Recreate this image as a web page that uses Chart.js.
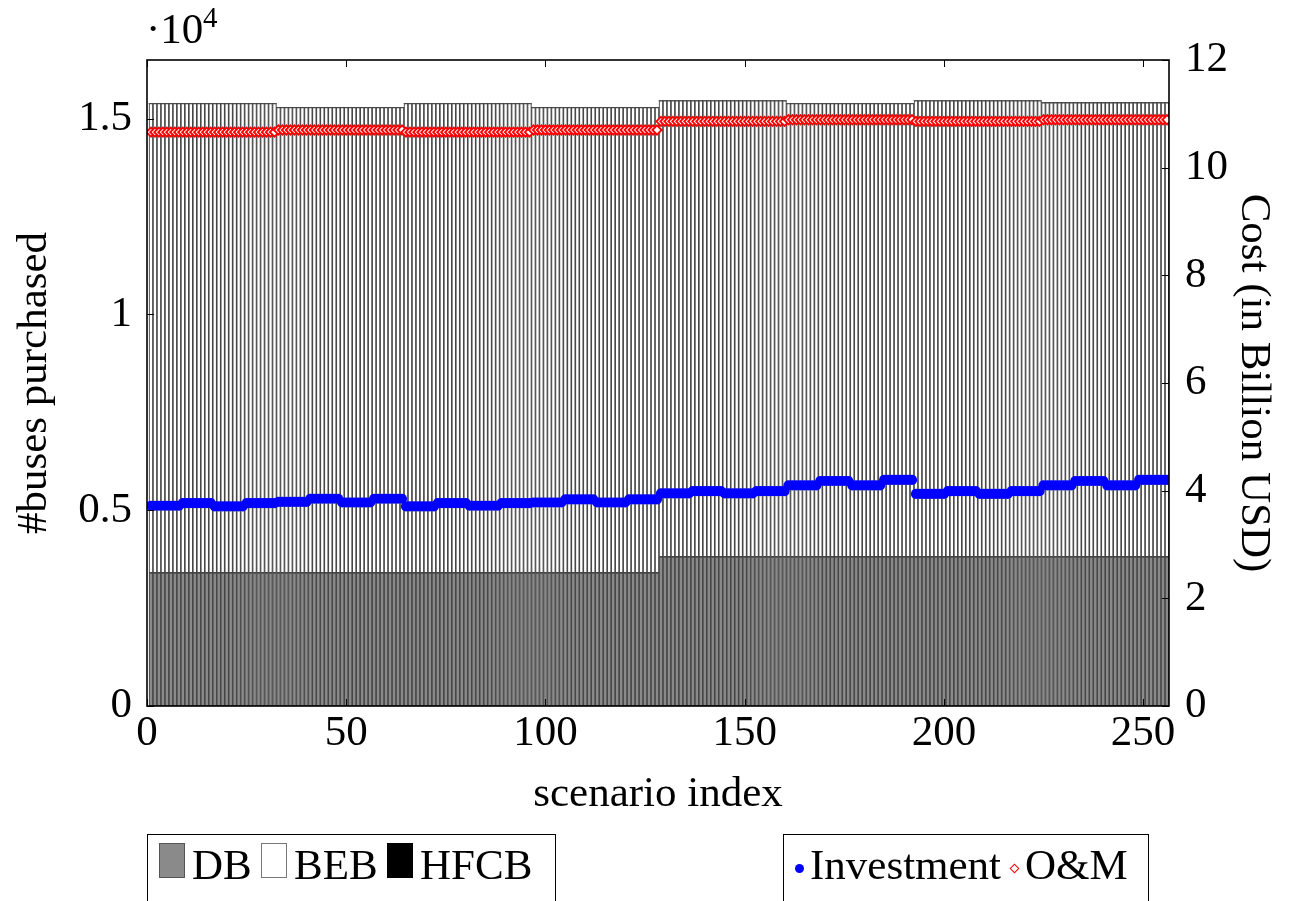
<!DOCTYPE html>
<html><head><meta charset="utf-8">
<script src="https://cdn.jsdelivr.net/npm/chart.js@4.4.1/dist/chart.umd.min.js"></script>
<style>
html,body{margin:0;padding:0;background:#fff;overflow:hidden;}
#wrap{position:relative;width:1289px;height:901px;font-family:"Liberation Serif","Times New Roman",serif;overflow:hidden;}
canvas{position:absolute;left:0;top:0;}
.box{position:absolute;border:1.5px solid #000;box-sizing:border-box;height:140px;background:transparent;}
.lbl{position:absolute;font-size:43px;line-height:43px;white-space:nowrap;color:#000;}
.sw{position:absolute;box-sizing:border-box;}
</style></head>
<body><div id="wrap"><canvas id="c" width="1289" height="901"></canvas>
<div class="lbl" style="left:146px;top:7px;">·10</div>
<div class="lbl" style="left:203px;top:3px;font-size:29px;line-height:29px;">4</div>
<div id="leg1" class="box" style="left:147px;top:834px;width:409px;"></div>
<div id="leg2" class="box" style="left:783px;top:834px;width:366px;"></div>
</div>
<script>
// ---- data ----
const scenarios = Array.from({length: 256}, (_, i) => i + 1);
const xTicks = [0, 50, 100, 150, 200, 250];
const busTicks = [0, 0.5, 1, 1.5];      // x 10^4
const costTicks = [0, 2, 4, 6, 8, 10, 12];

const DB = [
3400,3400,3400,3400,3400,3400,3400,3400,3400,3400,3400,3400,3400,3400,3400,3400,
3400,3400,3400,3400,3400,3400,3400,3400,3400,3400,3400,3400,3400,3400,3400,3400,
3400,3400,3400,3400,3400,3400,3400,3400,3400,3400,3400,3400,3400,3400,3400,3400,
3400,3400,3400,3400,3400,3400,3400,3400,3400,3400,3400,3400,3400,3400,3400,3400,
3400,3400,3400,3400,3400,3400,3400,3400,3400,3400,3400,3400,3400,3400,3400,3400,
3400,3400,3400,3400,3400,3400,3400,3400,3400,3400,3400,3400,3400,3400,3400,3400,
3400,3400,3400,3400,3400,3400,3400,3400,3400,3400,3400,3400,3400,3400,3400,3400,
3400,3400,3400,3400,3400,3400,3400,3400,3400,3400,3400,3400,3400,3400,3400,3400,
3810,3810,3810,3810,3810,3810,3810,3810,3810,3810,3810,3810,3810,3810,3810,3810,
3810,3810,3810,3810,3810,3810,3810,3810,3810,3810,3810,3810,3810,3810,3810,3810,
3810,3810,3810,3810,3810,3810,3810,3810,3810,3810,3810,3810,3810,3810,3810,3810,
3810,3810,3810,3810,3810,3810,3810,3810,3810,3810,3810,3810,3810,3810,3810,3810,
3810,3810,3810,3810,3810,3810,3810,3810,3810,3810,3810,3810,3810,3810,3810,3810,
3810,3810,3810,3810,3810,3810,3810,3810,3810,3810,3810,3810,3810,3810,3810,3810,
3810,3810,3810,3810,3810,3810,3810,3810,3810,3810,3810,3810,3810,3810,3810,3810,
3810,3810,3810,3810,3810,3810,3810,3810,3810,3810,3810,3810,3810,3810,3810,3810
];
const BEB = [
11990,11990,11990,11990,11990,11990,11990,11990,11990,11990,11990,11990,11990,11990,11990,11990,
11990,11990,11990,11990,11990,11990,11990,11990,11990,11990,11990,11990,11990,11990,11990,11990,
11890,11890,11890,11890,11890,11890,11890,11890,11890,11890,11890,11890,11890,11890,11890,11890,
11890,11890,11890,11890,11890,11890,11890,11890,11890,11890,11890,11890,11890,11890,11890,11890,
11990,11990,11990,11990,11990,11990,11990,11990,11990,11990,11990,11990,11990,11990,11990,11990,
11990,11990,11990,11990,11990,11990,11990,11990,11990,11990,11990,11990,11990,11990,11990,11990,
11890,11890,11890,11890,11890,11890,11890,11890,11890,11890,11890,11890,11890,11890,11890,11890,
11890,11890,11890,11890,11890,11890,11890,11890,11890,11890,11890,11890,11890,11890,11890,11890,
11650,11650,11650,11650,11650,11650,11650,11650,11650,11650,11650,11650,11650,11650,11650,11650,
11650,11650,11650,11650,11650,11650,11650,11650,11650,11650,11650,11650,11650,11650,11650,11650,
11580,11580,11580,11580,11580,11580,11580,11580,11580,11580,11580,11580,11580,11580,11580,11580,
11580,11580,11580,11580,11580,11580,11580,11580,11580,11580,11580,11580,11580,11580,11580,11580,
11650,11650,11650,11650,11650,11650,11650,11650,11650,11650,11650,11650,11650,11650,11650,11650,
11650,11650,11650,11650,11650,11650,11650,11650,11650,11650,11650,11650,11650,11650,11650,11650,
11600,11600,11600,11600,11600,11600,11600,11600,11600,11600,11600,11600,11600,11600,11600,11600,
11600,11600,11600,11600,11600,11600,11600,11600,11600,11600,11600,11600,11600,11600,11600,11600
];
const HFCB = [
0,0,0,0,0,0,0,0,0,0,0,0,0,0,0,0, 0,0,0,0,0,0,0,0,0,0,0,0,0,0,0,0,
0,0,0,0,0,0,0,0,0,0,0,0,0,0,0,0, 0,0,0,0,0,0,0,0,0,0,0,0,0,0,0,0,
0,0,0,0,0,0,0,0,0,0,0,0,0,0,0,0, 0,0,0,0,0,0,0,0,0,0,0,0,0,0,0,0,
0,0,0,0,0,0,0,0,0,0,0,0,0,0,0,0, 0,0,0,0,0,0,0,0,0,0,0,0,0,0,0,0,
0,0,0,0,0,0,0,0,0,0,0,0,0,0,0,0, 0,0,0,0,0,0,0,0,0,0,0,0,0,0,0,0,
0,0,0,0,0,0,0,0,0,0,0,0,0,0,0,0, 0,0,0,0,0,0,0,0,0,0,0,0,0,0,0,0,
0,0,0,0,0,0,0,0,0,0,0,0,0,0,0,0, 0,0,0,0,0,0,0,0,0,0,0,0,0,0,0,0,
0,0,0,0,0,0,0,0,0,0,0,0,0,0,0,0, 0,0,0,0,0,0,0,0,0,0,0,0,0,0,0,0
];
const investment = [
3.72,3.72,3.72,3.72,3.72,3.72,3.72,3.72,3.77,3.77,3.77,3.77,3.77,3.77,3.77,3.77,
3.71,3.71,3.71,3.71,3.71,3.71,3.71,3.71,3.77,3.77,3.77,3.77,3.77,3.77,3.77,3.77,
3.79,3.79,3.79,3.79,3.79,3.79,3.79,3.79,3.85,3.85,3.85,3.85,3.85,3.85,3.85,3.85,
3.78,3.78,3.78,3.78,3.78,3.78,3.78,3.78,3.85,3.85,3.85,3.85,3.85,3.85,3.85,3.85,
3.71,3.71,3.71,3.71,3.71,3.71,3.71,3.71,3.77,3.77,3.77,3.77,3.77,3.77,3.77,3.77,
3.72,3.72,3.72,3.72,3.72,3.72,3.72,3.72,3.77,3.77,3.77,3.77,3.77,3.77,3.77,3.77,
3.78,3.78,3.78,3.78,3.78,3.78,3.78,3.78,3.84,3.84,3.84,3.84,3.84,3.84,3.84,3.84,
3.78,3.78,3.78,3.78,3.78,3.78,3.78,3.78,3.84,3.84,3.84,3.84,3.84,3.84,3.84,3.84,
3.95,3.95,3.95,3.95,3.95,3.95,3.95,3.95,3.99,3.99,3.99,3.99,3.99,3.99,3.99,3.99,
3.95,3.95,3.95,3.95,3.95,3.95,3.95,3.95,3.99,3.99,3.99,3.99,3.99,3.99,3.99,3.99,
4.10,4.10,4.10,4.10,4.10,4.10,4.10,4.10,4.18,4.18,4.18,4.18,4.18,4.18,4.18,4.18,
4.10,4.10,4.10,4.10,4.10,4.10,4.10,4.10,4.20,4.20,4.20,4.20,4.20,4.20,4.20,4.20,
3.94,3.94,3.94,3.94,3.94,3.94,3.94,3.94,3.99,3.99,3.99,3.99,3.99,3.99,3.99,3.99,
3.94,3.94,3.94,3.94,3.94,3.94,3.94,3.94,3.99,3.99,3.99,3.99,3.99,3.99,3.99,3.99,
4.10,4.10,4.10,4.10,4.10,4.10,4.10,4.10,4.18,4.18,4.18,4.18,4.18,4.18,4.18,4.18,
4.10,4.10,4.10,4.10,4.10,4.10,4.10,4.10,4.20,4.20,4.20,4.20,4.20,4.20,4.20,4.20
];
const om = [
10.66,10.66,10.66,10.66,10.66,10.66,10.66,10.66,10.66,10.66,10.66,10.66,10.66,10.66,10.66,10.66,
10.66,10.66,10.66,10.66,10.66,10.66,10.66,10.66,10.66,10.66,10.66,10.66,10.66,10.66,10.66,10.66,
10.70,10.70,10.70,10.70,10.70,10.70,10.70,10.70,10.70,10.70,10.70,10.70,10.70,10.70,10.70,10.70,
10.70,10.70,10.70,10.70,10.70,10.70,10.70,10.70,10.70,10.70,10.70,10.70,10.70,10.70,10.70,10.70,
10.66,10.66,10.66,10.66,10.66,10.66,10.66,10.66,10.66,10.66,10.66,10.66,10.66,10.66,10.66,10.66,
10.66,10.66,10.66,10.66,10.66,10.66,10.66,10.66,10.66,10.66,10.66,10.66,10.66,10.66,10.66,10.66,
10.70,10.70,10.70,10.70,10.70,10.70,10.70,10.70,10.70,10.70,10.70,10.70,10.70,10.70,10.70,10.70,
10.70,10.70,10.70,10.70,10.70,10.70,10.70,10.70,10.70,10.70,10.70,10.70,10.70,10.70,10.70,10.70,
10.86,10.86,10.86,10.86,10.86,10.86,10.86,10.86,10.86,10.86,10.86,10.86,10.86,10.86,10.86,10.86,
10.86,10.86,10.86,10.86,10.86,10.86,10.86,10.86,10.86,10.86,10.86,10.86,10.86,10.86,10.86,10.86,
10.89,10.89,10.89,10.89,10.89,10.89,10.89,10.89,10.89,10.89,10.89,10.89,10.89,10.89,10.89,10.89,
10.89,10.89,10.89,10.89,10.89,10.89,10.89,10.89,10.89,10.89,10.89,10.89,10.89,10.89,10.89,10.89,
10.86,10.86,10.86,10.86,10.86,10.86,10.86,10.86,10.86,10.86,10.86,10.86,10.86,10.86,10.86,10.86,
10.86,10.86,10.86,10.86,10.86,10.86,10.86,10.86,10.86,10.86,10.86,10.86,10.86,10.86,10.86,10.86,
10.89,10.89,10.89,10.89,10.89,10.89,10.89,10.89,10.89,10.89,10.89,10.89,10.89,10.89,10.89,10.89,
10.89,10.89,10.89,10.89,10.89,10.89,10.89,10.89,10.89,10.89,10.89,10.89,10.89,10.89,10.89,10.89
];

// ---- chart ----
const F = {family: '"Liberation Serif","Times New Roman",serif', size: 43, lineHeight: 1.2};
const frame = {
  id: 'frame',
  afterDatasetsDraw(chart) {
    const {ctx, chartArea: a, scales} = chart;
    ctx.save();
    ctx.strokeStyle = '#000';
    ctx.lineWidth = 1;
    const L = 7;
    ctx.beginPath();
    scales.x.ticks.forEach(t => {
      const p = Math.round(scales.x.getPixelForValue(t.value)) + 0.5;
      ctx.moveTo(p, a.bottom); ctx.lineTo(p, a.bottom - L);
      ctx.moveTo(p, a.top); ctx.lineTo(p, a.top + L);
    });
    scales.y.ticks.forEach(t => {
      const p = Math.round(scales.y.getPixelForValue(t.value)) + 0.5;
      ctx.moveTo(a.left, p); ctx.lineTo(a.left + L, p);
    });
    scales.y1.ticks.forEach(t => {
      const p = Math.round(scales.y1.getPixelForValue(t.value)) + 0.5;
      ctx.moveTo(a.right, p); ctx.lineTo(a.right - L, p);
    });
    ctx.stroke();
    ctx.lineWidth = 1.6;
    ctx.strokeRect(a.left, a.top, a.right - a.left, a.bottom - a.top);
    ctx.restore();
  }
};

const barCommon = {type: 'bar', yAxisID: 'y', stack: 's', order: 2,
  barPercentage: 1, categoryPercentage: 1, borderSkipped: false};

const chart = new Chart(document.getElementById('c'), {
  data: {
    labels: scenarios,
    datasets: [
      {type: 'line', label: 'Investment', data: investment, yAxisID: 'y1', order: 0,
        showLine: false, pointStyle: 'circle', pointRadius: 5.1, pointBorderWidth: 0,
        pointBackgroundColor: '#0000ff', backgroundColor: '#0000ff', borderColor: '#0000ff'},
      {type: 'line', label: 'O&M', data: om, yAxisID: 'y1', order: 0,
        showLine: false, pointStyle: 'rectRot', pointRadius: 4.6, pointBorderWidth: 1.9,
        pointBackgroundColor: '#ffffff', pointBorderColor: '#ff0000', backgroundColor: '#ffffff', borderColor: '#ff0000'},
      Object.assign({label: 'DB', data: DB, backgroundColor: '#8a8a8a', borderColor: '#474747', borderWidth: 1.15}, barCommon),
      Object.assign({label: 'BEB', data: BEB, backgroundColor: '#ffffff', borderColor: '#474747', borderWidth: 1.15}, barCommon),
      Object.assign({label: 'HFCB', data: HFCB, backgroundColor: '#000000', borderColor: '#000000', borderWidth: 0}, barCommon)
    ]
  },
  options: {
    responsive: false, animation: false, devicePixelRatio: 1,
    layout: {padding: {top: 60, left: 0, right: 0, bottom: 0}},
    plugins: {legend: {display: false}, tooltip: {enabled: false}},
    scales: {
      x: {
        type: 'linear', min: 0, max: 256.5, offset: false, stacked: true,
        grid: {display: false, drawTicks: false}, border: {display: false},
        afterBuildTicks: s => { s.ticks = xTicks.map(v => ({value: v})); },
        ticks: {font: F, color: '#000', padding: 2, maxRotation: 0, autoSkip: false, callback: v => String(v)},
        title: {display: true, text: 'scenario index', font: F, color: '#000', padding: {top: 0, bottom: 80}},
        afterFit: s => { s.height = 195; }
      },
      y: {
        type: 'linear', position: 'left', min: 0, max: 16500, stacked: true,
        grid: {display: false, drawTicks: false}, border: {display: false},
        afterBuildTicks: s => { s.ticks = busTicks.map(v => ({value: v * 10000})); },
        ticks: {font: F, color: '#000', padding: 15, callback: v => String(v / 10000)},
        title: {display: true, text: '#buses purchased', font: F, color: '#000', padding: {top: 9, bottom: 0}},
        afterFit: s => { s.width = 147; }
      },
      y1: {
        type: 'linear', position: 'right', min: 0, max: 12, stacked: false,
        grid: {display: false, drawTicks: false}, border: {display: false},
        afterBuildTicks: s => { s.ticks = costTicks.map(v => ({value: v})); },
        ticks: {font: F, color: '#000', padding: 16, callback: v => String(v)},
        title: {display: true, text: 'Cost (in Billion USD)', font: F, color: '#000', padding: {top: 10, bottom: 0}},
        afterFit: s => { s.width = 120; }
      }
    }
  },
  plugins: [frame]
});

// ---- legends built from datasets ----
function byLabel(l) { return chart.data.datasets.find(d => d.label === l); }
const wrap = document.getElementById('wrap');
function addEl(cls, css, text) {
  const e = document.createElement('div');
  e.className = cls; e.style.cssText = css;
  if (text !== undefined) e.textContent = text;
  wrap.appendChild(e); return e;
}
const barLeg = [
  {l: 'DB', sx: 159, tx: 192, border: '#555555'},
  {l: 'BEB', sx: 261, tx: 294, border: '#777777'},
  {l: 'HFCB', sx: 387, tx: 420, border: '#000000'}
];
barLeg.forEach(it => {
  const d = byLabel(it.l);
  addEl('sw', `left:${it.sx}px;top:843px;width:26px;height:35px;background:${d.backgroundColor};border:1px solid ${it.border};`);
  addEl('lbl', `left:${it.tx}px;top:843px;`, d.label);
});
const inv = byLabel('Investment'), omd = byLabel('O&M');
addEl('sw', `left:794.5px;top:863.5px;width:9px;height:9px;border-radius:50%;background:${inv.pointBackgroundColor};`);
addEl('lbl', 'left:810px;top:843px;', inv.label);
addEl('sw', `left:1010.5px;top:864.5px;width:7px;height:7px;transform:rotate(45deg);background:${omd.pointBackgroundColor};border:1.4px solid ${omd.pointBorderColor};`);
addEl('lbl', 'left:1025px;top:843px;', omd.label);
</script>
</body></html>
